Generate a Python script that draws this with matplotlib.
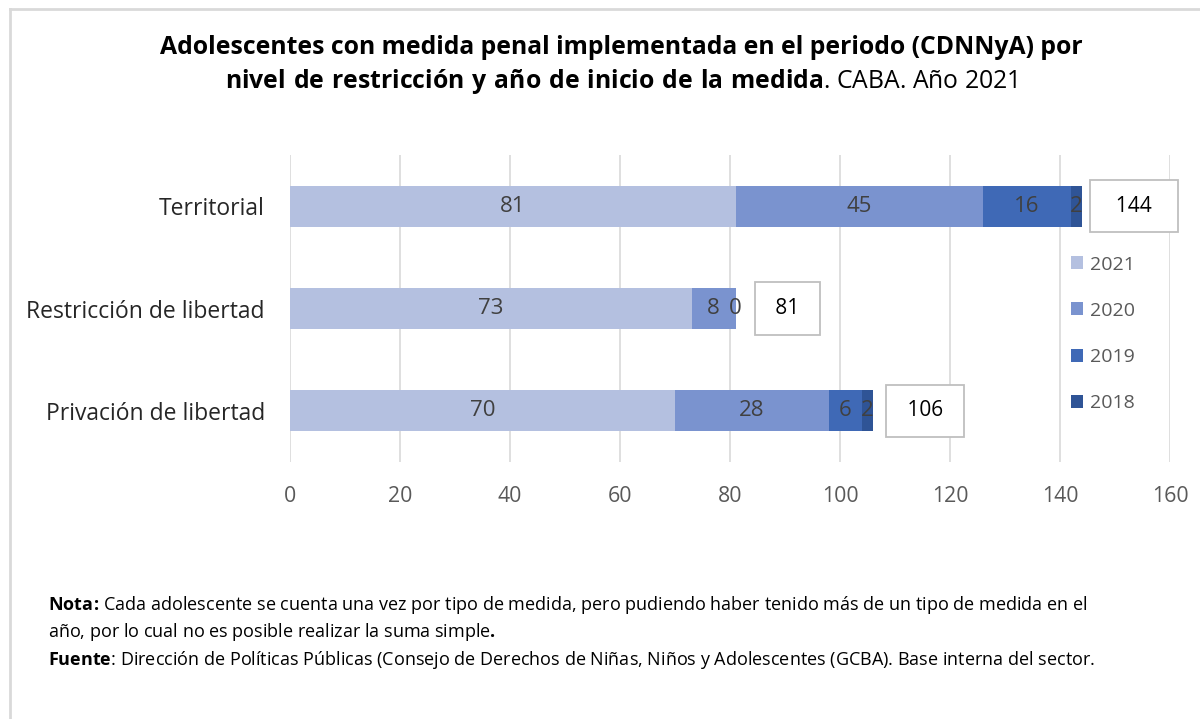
import numpy as np
import matplotlib.pyplot as plt

plt.rcParams['font.family'] = ['Open Sans', 'DejaVu Sans']
plt.rcParams['mathtext.fontset'] = 'custom'
plt.rcParams['mathtext.rm'] = 'Open Sans'
plt.rcParams['mathtext.bf'] = 'Open Sans:bold'

# data
categorias = ['Privación de libertad', 'Restricción de libertad', 'Territorial']
anios = ['2021', '2020', '2019', '2018']
v2021 = [70, 73, 81]
v2020 = [28, 8, 45]
v2019 = [6, 0, 16]
v2018 = [2, None, 2]
totales = [106, 81, 144]
colores = ['#b4c0e0', '#7a93cf', '#3f69b6', '#2f5496']

series = [v2021, v2020, v2019, v2018]

fig = plt.figure(figsize=(12, 7.19), dpi=100)
ax = fig.add_axes([290 / 1200, 1 - 462 / 719, 880 / 1200, 307 / 719])

y = np.arange(len(categorias))
left = np.zeros(len(categorias))
for vals, anio, col in zip(series, anios, colores):
    v = np.array([0 if x is None else x for x in vals], dtype=float)
    bars = ax.barh(y, v, left=left, height=0.4, color=col, label=anio, zorder=3)
    labels = ['' if x is None else str(x) for x in vals]
    ax.bar_label(bars, labels=labels, label_type='center', color='#404040',
                 fontsize=16)
    left = left + v

# totals in boxes
espacios = [' ', ' ', '  ']
for yi, tot, sp in zip(y, totales, espacios):
    ax.annotate(sp + str(tot) + sp, xy=(left[yi], yi), xytext=(52, 0), textcoords='offset pixels',
                ha='center', va='center', fontsize=15, color='black', zorder=5,
                bbox=dict(boxstyle='square,pad=0.75', fc='white', ec='#bfbfbf', lw=1.3))

ax.set_xlim(0, 160)
ax.set_ylim(-0.5, 2.5)
ax.set_xticks(np.arange(0, 161, 20))
ax.set_yticks(y)
ax.set_yticklabels(categorias, fontsize=16.5, color='#262626')
ax.tick_params(axis='x', labelsize=15.3, labelcolor='#595959', length=0, pad=17)
ax.tick_params(axis='y', length=0, pad=18)
ax.grid(axis='x', color='#d9d9d9', lw=1.2, zorder=0)
for s in ax.spines.values():
    s.set_visible(False)

leg = ax.legend(loc='upper left', bbox_to_anchor=(1053 / 1200, 1 - 238 / 719),
                bbox_transform=fig.transFigure, frameon=False, fontsize=14,
                labelcolor='#595959', handlelength=0.65, handleheight=0.65,
                handletextpad=0.35, labelspacing=1.45)

# title and notes
fig.text(0.518, 1 - 47 / 719,
         'Adolescentes con medida penal implementada en el periodo (CDNNyA) por',
         fontsize=17.8, fontweight='bold', ha='center', va='center')
fig.text(0.518, 1 - 82 / 719,
         r'$\bf{nivel\ de\ restricción\ y\ año\ de\ inicio\ de\ la\ medida}$. CABA. Año 2021',
         fontsize=17.8, ha='center', va='center')

fig.text(48 / 1200, 1 - 605 / 719,
         r'$\bf{Nota}\!\bf{:}\!$ Cada adolescente se cuenta una vez por tipo de medida, pero pudiendo haber tenido más de un tipo de medida en el',
         fontsize=13, va='center')
fig.text(48 / 1200, 1 - 632 / 719,
         r'año, por lo cual no es posible realizar la suma simple$\bf{.}$',
         fontsize=13, va='center')
fig.text(48 / 1200, 1 - 660 / 719,
         r'$\bf{Fuente}$: Dirección de Políticas Públicas (Consejo de Derechos de Niñas, Niños y Adolescentes (GCBA). Base interna del sector.',
         fontsize=13, va='center')

# outer border (top and left)
fig.add_artist(plt.Line2D([9.5 / 1200, 9.5 / 1200], [0, 1 - 9 / 719], color='#d9d9d9', lw=2))
fig.add_artist(plt.Line2D([9.5 / 1200, 1], [1 - 9 / 719, 1 - 9 / 719], color='#d9d9d9', lw=2))

fig.savefig('out.png', dpi=100)
